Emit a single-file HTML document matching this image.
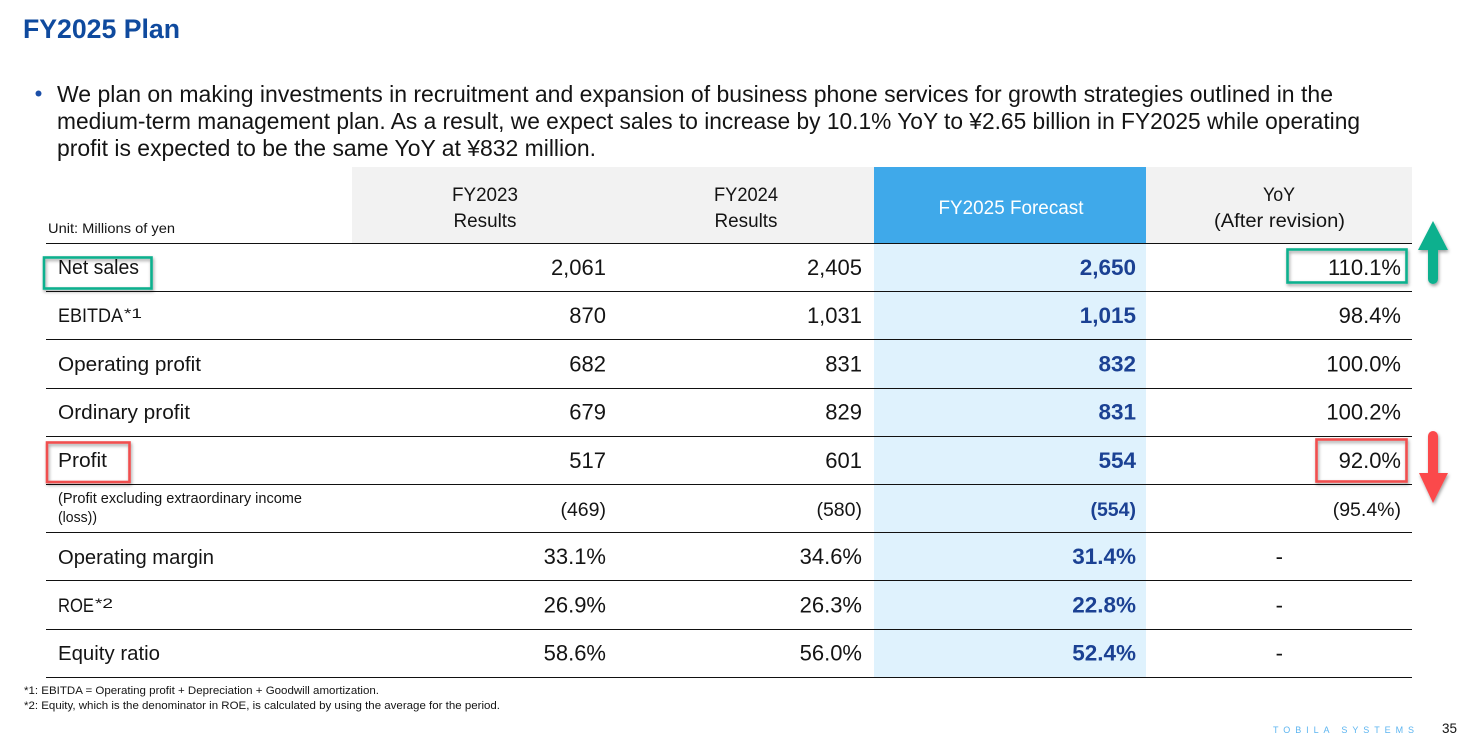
<!DOCTYPE html>
<html lang="en">
<head>
<meta charset="utf-8">
<title>FY2025 Plan</title>
<style>
html,body{margin:0;padding:0;background:#fff;width:1467px;height:743px;overflow:hidden}
svg{display:block}
text{font-family:"Liberation Sans",Arial,sans-serif;fill:#141414}
</style>
</head>
<body>
<svg id="slide" xmlns="http://www.w3.org/2000/svg" width="1467" height="743" viewBox="0 0 1467 743">
  <defs>
    <filter id="sh" x="-30%" y="-30%" width="160%" height="160%">
      <feDropShadow dx="1" dy="2" stdDeviation="1.6" flood-color="#000" flood-opacity="0.38"/>
    </filter>
  </defs>
  <rect width="1467" height="743" fill="#fff"/>

  <text x="23" y="38" font-size="27" font-weight="700" textLength="157" lengthAdjust="spacingAndGlyphs" style="fill:#0F4A9E">FY2025 Plan</text>

  <circle cx="38.5" cy="93.5" r="3" fill="#1B4FA8"/>
  <text x="57" y="102" font-size="23" textLength="1276" lengthAdjust="spacingAndGlyphs">We plan on making investments in recruitment and expansion of business phone services for growth strategies outlined in the</text>
  <text x="57" y="129" font-size="23" textLength="1303" lengthAdjust="spacingAndGlyphs">medium-term management plan. As a result, we expect sales to increase by 10.1% YoY to ¥2.65 billion in FY2025 while operating</text>
  <text x="57" y="156" font-size="23" textLength="539" lengthAdjust="spacingAndGlyphs">profit is expected to be the same YoY at ¥832 million.</text>

  <rect x="352" y="167" width="1060" height="76" fill="#F2F2F2"/>
  <rect x="874" y="167" width="272" height="76" fill="#3FA9EA"/>
  <rect x="874" y="243" width="272" height="434" fill="#DFF2FD"/>

  <text x="48" y="233" font-size="14" textLength="127" lengthAdjust="spacingAndGlyphs">Unit: Millions of yen</text>
  <text x="485" y="201" font-size="19" text-anchor="middle" textLength="66" lengthAdjust="spacingAndGlyphs">FY2023</text>
  <text x="485" y="227" font-size="19" text-anchor="middle" textLength="63" lengthAdjust="spacingAndGlyphs">Results</text>
  <text x="746" y="201" font-size="19" text-anchor="middle" textLength="64" lengthAdjust="spacingAndGlyphs">FY2024</text>
  <text x="746" y="227" font-size="19" text-anchor="middle" textLength="63" lengthAdjust="spacingAndGlyphs">Results</text>
  <text x="1011" y="214" font-size="19" text-anchor="middle" textLength="145" lengthAdjust="spacingAndGlyphs" style="fill:#fff">FY2025 Forecast</text>
  <text x="1279" y="201" font-size="19" text-anchor="middle" textLength="32" lengthAdjust="spacingAndGlyphs">YoY</text>
  <text x="1279.5" y="227" font-size="19" text-anchor="middle" textLength="131" lengthAdjust="spacingAndGlyphs">(After revision)</text>

  <text x="58" y="274" font-size="20" textLength="81" lengthAdjust="spacingAndGlyphs">Net sales</text>
  <text x="58" y="322" font-size="19" textLength="65" lengthAdjust="spacingAndGlyphs">EBITDA</text>
  <text x="124" y="318" font-size="14" textLength="18" lengthAdjust="spacingAndGlyphs">*1</text>
  <text x="58" y="371" font-size="20" textLength="143" lengthAdjust="spacingAndGlyphs">Operating profit</text>
  <text x="58" y="419" font-size="20" textLength="132" lengthAdjust="spacingAndGlyphs">Ordinary profit</text>
  <text x="58" y="467" font-size="20" textLength="49" lengthAdjust="spacingAndGlyphs">Profit</text>
  <text x="58" y="503" font-size="14.5" textLength="244" lengthAdjust="spacingAndGlyphs">(Profit excluding extraordinary income</text>
  <text x="58" y="522" font-size="14.5" textLength="39" lengthAdjust="spacingAndGlyphs">(loss))</text>
  <text x="58" y="564" font-size="20" textLength="156" lengthAdjust="spacingAndGlyphs">Operating margin</text>
  <text x="58" y="612" font-size="19" textLength="36" lengthAdjust="spacingAndGlyphs">ROE</text>
  <text x="95" y="608" font-size="14" textLength="18" lengthAdjust="spacingAndGlyphs">*2</text>
  <text x="58" y="660" font-size="20" textLength="102" lengthAdjust="spacingAndGlyphs">Equity ratio</text>

  <g id="rows"></g>

  <rect x="44" y="257.5" width="107.5" height="31" fill="none" stroke="#0FB08E" stroke-width="2.6" filter="url(#sh)"/>
  <rect x="1287.5" y="249.5" width="119" height="33" fill="none" stroke="#0FB08E" stroke-width="2.6" filter="url(#sh)"/>
  <rect x="47" y="442.5" width="82.5" height="39.5" fill="none" stroke="#F0504F" stroke-width="2.6" filter="url(#sh)"/>
  <rect x="1316.5" y="439.5" width="90" height="42" fill="none" stroke="#F0504F" stroke-width="2.6" filter="url(#sh)"/>

  <path d="M1433 221 L1448 250 L1438 250 L1438 279 A5 5 0 0 1 1428 279 L1428 250 L1418 250 Z" fill="#0FB08E" filter="url(#sh)"/>
  <path d="M1433 503 L1419 473 L1428 473 L1428 436 A5 5 0 0 1 1438 436 L1438 473 L1448 473 Z" fill="#FB4A4C" filter="url(#sh)"/>

  <text x="24" y="694" font-size="11" textLength="355" lengthAdjust="spacingAndGlyphs">*1: EBITDA = Operating profit + Depreciation + Goodwill amortization.</text>
  <text x="24" y="709" font-size="11" textLength="476" lengthAdjust="spacingAndGlyphs">*2: Equity, which is the denominator in ROE, is calculated by using the average for the period.</text>

  <text x="1273" y="733" font-size="9" textLength="141" style="fill:#5DB5F0">TOBILA SYSTEMS</text>
  <text x="1442" y="733" font-size="14" textLength="15" lengthAdjust="spacingAndGlyphs">35</text>
</svg>
<script>
var rowNames = ['net-sales','ebitda','operating-profit','ordinary-profit','profit','profit-excl','operating-margin','roe','equity-ratio'];
var fy2023 = ['2,061','870','682','679','517','(469)','33.1%','26.9%','58.6%'];
var fy2024 = ['2,405','1,031','831','829','601','(580)','34.6%','26.3%','56.0%'];
var fy2025 = ['2,650','1,015','832','831','554','(554)','31.4%','22.8%','52.4%'];
var yoy = ['110.1%','98.4%','100.0%','100.2%','92.0%','(95.4%)','-','-','-'];

var NS = 'http://www.w3.org/2000/svg';
var rowsGroup = document.getElementById('rows');
function rowTop(i){ return 243 + i * 48.2; }
function addCell(value, x, i, bold, colName){
  var t = document.createElementNS(NS, 'text');
  var small = rowNames[i] === 'profit-excl';
  t.setAttribute('x', x);
  t.setAttribute('y', rowTop(i) + 32);
  t.setAttribute('text-anchor', 'end');
  t.setAttribute('font-size', small ? 19.5 : (bold ? 22.5 : 22));
  if (bold) {
    t.setAttribute('font-weight', '700');
    t.style.fill = '#1B4193';
  }
  
  
  t.textContent = value;
  rowsGroup.appendChild(t);
}
function addLine(i){
  var l = document.createElementNS(NS, 'rect');
  l.setAttribute('x', 46);
  l.setAttribute('y', Math.round(rowTop(i)));
  l.setAttribute('width', 1366);
  l.setAttribute('height', 1);
  l.setAttribute('fill', '#111');
  
  
  rowsGroup.appendChild(l);
}
for (var i = 0; i <= rowNames.length; i++) addLine(i);
rowNames.forEach(function(_, i){
  addCell(fy2023[i], 606, i, false, 'fy2023');
  addCell(fy2024[i], 862, i, false, 'fy2024');
  addCell(fy2025[i], 1136, i, true, 'fy2025');
  addCell(yoy[i], yoy[i] === '-' ? 1283 : 1401, i, false, 'yoy');
});
</script>
</body>
</html>
